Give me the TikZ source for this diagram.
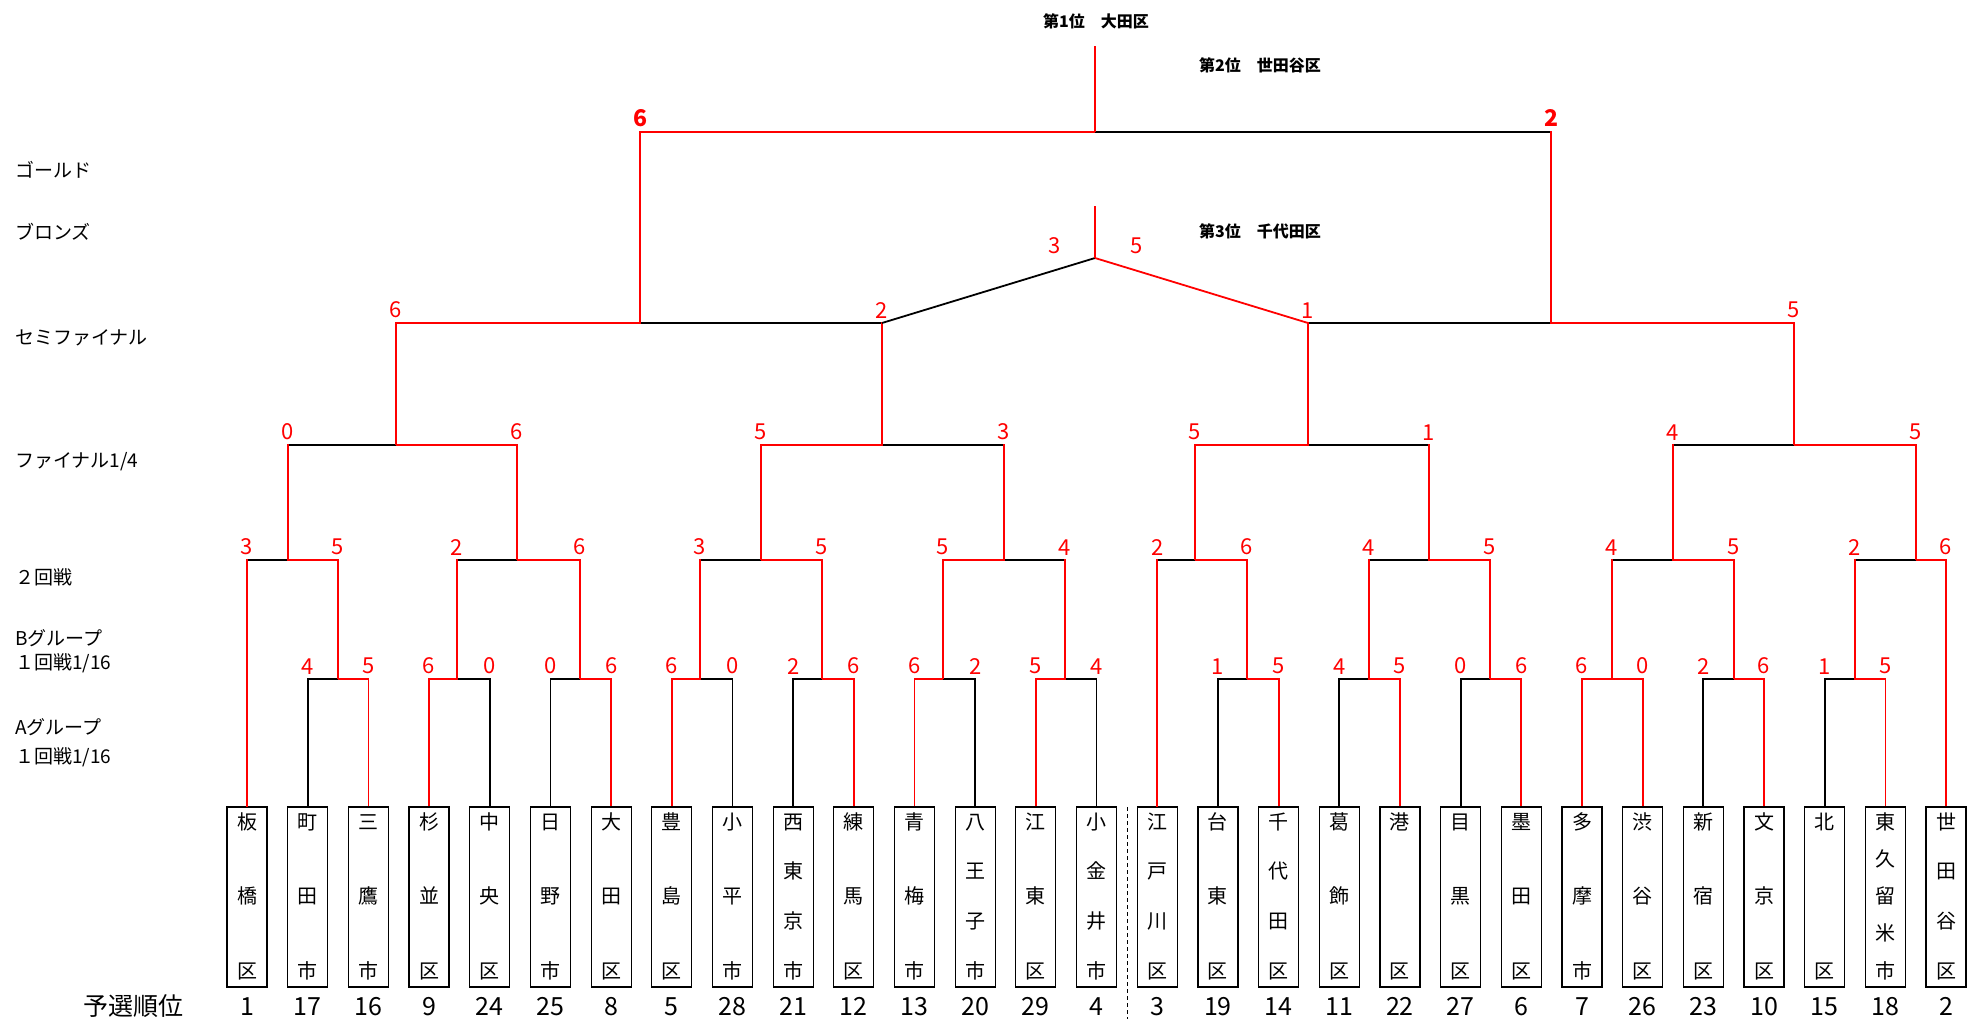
\documentclass[tikz,border=0pt]{standalone}
\usepackage{fontspec}
\setmainfont{Noto Sans CJK JP}
\usetikzlibrary{positioning}

% nome in verticale dentro la casella
\newcommand\tate[1]{\vbox to 166pt{\offinterlineskip
    \foreach \kj [count=\k] in {#1}{\ifnum\k>1 \vfill\fi
        \hbox to 26pt{\hss\rule[-4pt]{0pt}{21pt}\kj\hss}}}}

\tikzset{
    win/.style={draw=red, line width=1.8pt},
    lose/.style={draw=black, line width=1.8pt},
    rise/.style={win, line cap=rect},
    goldline/.style={line width=2.4pt},
    team/.style={draw, line width=1.2pt, minimum width=40pt, minimum height=180pt, inner sep=0pt, font=\fontsize{20}{20}\selectfont},
    rank/.style={inner sep=0pt, yshift=-10pt, font=\fontsize{25}{25}\selectfont},
    num/.style={inner sep=0pt, text=red, font=\fontsize{22}{22}\selectfont},
    score/.style={num, above=4pt},
    gscore/.style={score, font=\bfseries\fontsize{23}{23}\selectfont},
    stage/.style={anchor=west, inner sep=0pt, font=\fontsize{19}{19}\selectfont},
    place/.style={inner sep=0pt, font=\bfseries\fontsize{16}{16}\selectfont}
}

\begin{document}
\begin{tikzpicture}[x=1pt, y=-1pt]

        \useasboundingbox (0,0) rectangle (1967,1019);

        % 1. Etichette dei turni a sinistra
        \node[stage] (lgold) at (15,170) {ゴールド};
        \node[stage] (lbronze) at (15,232) {ブロンズ};
        \node[stage] (lsemi) at (15,338) {セミファイナル};
        \node[stage] (lquarter) at (15,462) {ファイナル1/4};
        \node[stage] (lsecond) at (15,577) {２回戦};
        \node[stage] (lgroupb) at (15,638) {Bグループ};
        \node[stage] (lroundb) at (15,663) {１回戦1/16};
        \node[stage] (lgroupa) at (15,727) {Aグループ};
        \node[stage] (lrounda) at (15,757) {１回戦1/16};
        \node[inner sep=0pt, font=\fontsize{25}{25}\selectfont] (lrank) at (133,1006) {予選順位};

        % 2. Caselle delle squadre con il piazzamento sotto
        \node[team, label={[rank]below:1}] (itabashi) at (247,897) {\tate{板,橋,区}};
        \node[team, label={[rank]below:17}] (machida) at (307.7,897) {\tate{町,田,市}};
        \node[team, label={[rank]below:16}] (mitaka) at (368.4,897) {\tate{三,鷹,市}};
        \node[team, label={[rank]below:9}] (suginami) at (429,897) {\tate{杉,並,区}};
        \node[team, label={[rank]below:24}] (chuo) at (489.7,897) {\tate{中,央,区}};
        \node[team, label={[rank]below:25}] (hino) at (550.4,897) {\tate{日,野,市}};
        \node[team, label={[rank]below:8}] (ota) at (611.1,897) {\tate{大,田,区}};
        \node[team, label={[rank]below:5}] (toshima) at (671.8,897) {\tate{豊,島,区}};
        \node[team, label={[rank]below:28}] (kodaira) at (732.4,897) {\tate{小,平,市}};
        \node[team, label={[rank]below:21}] (nishitokyo) at (793.1,897) {\tate{西,東,京,市}};
        \node[team, label={[rank]below:12}] (nerima) at (853.8,897) {\tate{練,馬,区}};
        \node[team, label={[rank]below:13}] (ome) at (914.5,897) {\tate{青,梅,市}};
        \node[team, label={[rank]below:20}] (hachioji) at (975.2,897) {\tate{八,王,子,市}};
        \node[team, label={[rank]below:29}] (koto) at (1035.8,897) {\tate{江,東,区}};
        \node[team, label={[rank]below:4}] (koganei) at (1096.5,897) {\tate{小,金,井,市}};
        \node[team, label={[rank]below:3}] (edogawa) at (1157.2,897) {\tate{江,戸,川,区}};
        \node[team, label={[rank]below:19}] (taito) at (1217.9,897) {\tate{台,東,区}};
        \node[team, label={[rank]below:14}] (chiyoda) at (1278.6,897) {\tate{千,代,田,区}};
        \node[team, label={[rank]below:11}] (katsushika) at (1339.2,897) {\tate{葛,飾,区}};
        \node[team, label={[rank]below:22}] (minato) at (1399.9,897) {\tate{港,区}};
        \node[team, label={[rank]below:27}] (meguro) at (1460.6,897) {\tate{目,黒,区}};
        \node[team, label={[rank]below:6}] (sumida) at (1521.3,897) {\tate{墨,田,区}};
        \node[team, label={[rank]below:7}] (tama) at (1582,897) {\tate{多,摩,市}};
        \node[team, label={[rank]below:26}] (shibuya) at (1642.6,897) {\tate{渋,谷,区}};
        \node[team, label={[rank]below:23}] (shinjuku) at (1703.3,897) {\tate{新,宿,区}};
        \node[team, label={[rank]below:10}] (bunkyo) at (1764,897) {\tate{文,京,区}};
        \node[team, label={[rank]below:15}] (kita) at (1824.7,897) {\tate{北,区}};
        \node[team, label={[rank]below:18}] (higashikurume) at (1885.4,897) {\tate{東,久,留,米,市}};
        \node[team, label={[rank]below:2}] (setagaya) at (1946,897) {\tate{世,田,谷,区}};

        % 3. Linea tratteggiata fra le due metà
        \coordinate (divtop) at (1127,807);
        \coordinate (divbot) at (1127,1019);
        \draw[line width=0.8pt, dash pattern=on 4pt off 3pt] (divtop) -- (divbot);

        % 4. Punti di incontro dei turni
        \coordinate (r1a) at (338,679);
        \coordinate (r1b) at (457,679);
        \coordinate (r1c) at (580,679);
        \coordinate (r1d) at (700,679);
        \coordinate (r1e) at (822,679);
        \coordinate (r1f) at (943,679);
        \coordinate (r1g) at (1065,679);
        \coordinate (r1h) at (1247,679);
        \coordinate (r1i) at (1369,679);
        \coordinate (r1j) at (1490,679);
        \coordinate (r1k) at (1612,679);
        \coordinate (r1l) at (1734,679);
        \coordinate (r1m) at (1855,679);
        \coordinate (r2a) at (288,560);
        \coordinate (r2b) at (517,560);
        \coordinate (r2c) at (761,560);
        \coordinate (r2d) at (1004,560);
        \coordinate (r2e) at (1195,560);
        \coordinate (r2f) at (1429,560);
        \coordinate (r2g) at (1673,560);
        \coordinate (r2h) at (1916,560);
        \coordinate (qfa) at (396,445);
        \coordinate (qfb) at (882,445);
        \coordinate (qfc) at (1308,445);
        \coordinate (qfd) at (1794,445);
        \coordinate (sfa) at (640,323);
        \coordinate (sfb) at (1551,323);
        \coordinate (gold) at (1095,132);
        \coordinate (champ) at (1095,46);
        \coordinate (br) at (1095,258);
        \coordinate (brtop) at (1095,206);

        % 5. Primo turno
        \draw[lose] (machida) |- node[score] {4} (r1a);
        \draw[win] (mitaka) |- node[score] {5} (r1a);
        \draw[win] (suginami) |- node[score] {6} (r1b);
        \draw[lose] (chuo) |- node[score] {0} (r1b);
        \draw[lose] (hino) |- node[score] {0} (r1c);
        \draw[win] (ota) |- node[score] {6} (r1c);
        \draw[win] (toshima) |- node[score] {6} (r1d);
        \draw[lose] (kodaira) |- node[score] {0} (r1d);
        \draw[lose] (nishitokyo) |- node[score] {2} (r1e);
        \draw[win] (nerima) |- node[score] {6} (r1e);
        \draw[win] (ome) |- node[score] {6} (r1f);
        \draw[lose] (hachioji) |- node[score] {2} (r1f);
        \draw[win] (koto) |- node[score] {5} (r1g);
        \draw[lose] (koganei) |- node[score] {4} (r1g);
        \draw[lose] (taito) |- node[score] {1} (r1h);
        \draw[win] (chiyoda) |- node[score] {5} (r1h);
        \draw[lose] (katsushika) |- node[score] {4} (r1i);
        \draw[win] (minato) |- node[score] {5} (r1i);
        \draw[lose] (meguro) |- node[score] {0} (r1j);
        \draw[win] (sumida) |- node[score] {6} (r1j);
        \draw[win] (tama) |- node[score] {6} (r1k);
        \draw[win] (shibuya) |- node[score] {0} (r1k);
        \draw[lose] (shinjuku) |- node[score] {2} (r1l);
        \draw[win] (bunkyo) |- node[score] {6} (r1l);
        \draw[lose] (kita) |- node[score] {1} (r1m);
        \draw[win] (higashikurume) |- node[score] {5} (r1m);

        % 6. Secondo turno
        \draw[lose] (itabashi |- r2a) -- node[at start, score] {3} (r2a);
        \draw[rise] (itabashi) -- (itabashi |- r2a);
        \draw[win] (r1a) |- node[score] {5} (r2a);
        \draw[lose] (r1b |- r2b) -- node[at start, score] {2} (r2b);
        \draw[rise] (r1b) -- (r1b |- r2b);
        \draw[win] (r1c) |- node[score] {6} (r2b);
        \draw[lose] (r1d |- r2c) -- node[at start, score] {3} (r2c);
        \draw[rise] (r1d) -- (r1d |- r2c);
        \draw[win] (r1e) |- node[score] {5} (r2c);
        \draw[win] (r1f) |- node[score] {5} (r2d);
        \draw[lose] (r1g |- r2d) -- node[at start, score] {4} (r2d);
        \draw[rise] (r1g) -- (r1g |- r2d);
        \draw[lose] (edogawa |- r2e) -- node[at start, score] {2} (r2e);
        \draw[rise] (edogawa) -- (edogawa |- r2e);
        \draw[win] (r1h) |- node[score] {6} (r2e);
        \draw[lose] (r1i |- r2f) -- node[at start, score] {4} (r2f);
        \draw[rise] (r1i) -- (r1i |- r2f);
        \draw[win] (r1j) |- node[score] {5} (r2f);
        \draw[lose] (r1k |- r2g) -- node[at start, score] {4} (r2g);
        \draw[rise] (r1k) -- (r1k |- r2g);
        \draw[win] (r1l) |- node[score] {5} (r2g);
        \draw[lose] (r1m |- r2h) -- node[at start, score] {2} (r2h);
        \draw[rise] (r1m) -- (r1m |- r2h);
        \draw[win] (setagaya) |- node[score] {6} (r2h);

        % 7. Quarti di finale
        \draw[lose] (r2a |- qfa) -- node[at start, score] {0} (qfa);
        \draw[rise] (r2a) -- (r2a |- qfa);
        \draw[win] (r2b) |- node[score] {6} (qfa);
        \draw[win] (r2c) |- node[score] {5} (qfb);
        \draw[lose] (r2d |- qfb) -- node[at start, score] {3} (qfb);
        \draw[rise] (r2d) -- (r2d |- qfb);
        \draw[win] (r2e) |- node[score] {5} (qfc);
        \draw[lose] (r2f |- qfc) -- node[at start, score] {1} (qfc);
        \draw[rise] (r2f) -- (r2f |- qfc);
        \draw[lose] (r2g |- qfd) -- node[at start, score] {4} (qfd);
        \draw[rise] (r2g) -- (r2g |- qfd);
        \draw[win] (r2h) |- node[score] {5} (qfd);

        % 8. Semifinali
        \draw[win] (qfa) |- node[score] {6} (sfa);
        \draw[lose] (qfb |- sfa) -- node[at start, score] {2} (sfa);
        \draw[rise] (qfb) -- (qfb |- sfa);
        \draw[lose] (qfc |- sfb) -- node[at start, score] {1} (sfb);
        \draw[rise] (qfc) -- (qfc |- sfb);
        \draw[win] (qfd) |- node[score] {5} (sfb);

        % 9. Finale per l'oro
        \draw[win, goldline] (sfa |- gold) -- node[at start, gscore] {6} (gold);
        \draw[rise] (sfa) -- (sfa |- gold);
        \draw[lose, goldline] (sfb |- gold) -- node[at start, gscore] {2} (gold);
        \draw[rise] (sfb) -- (sfb |- gold);
        \draw[win] (gold) -- (champ);
        \node[place] (first) at (1096,21) {第1位　大田区};
        \node[place, anchor=west] (second) at (1199,65) {第2位　世田谷区};

        % 10. Finale per il bronzo
        \draw[lose] (qfb |- sfa) -- (br);
        \draw[win] (qfc |- sfb) -- (br);
        \draw[win] (br) -- (brtop);
        \node[num, above left=4pt and 34pt of br] (bleft) {3};
        \node[num, above right=4pt and 35pt of br] (bright) {5};
        \node[place, anchor=west] (third) at (1199,231) {第3位　千代田区};

\end{tikzpicture}
\end{document}
